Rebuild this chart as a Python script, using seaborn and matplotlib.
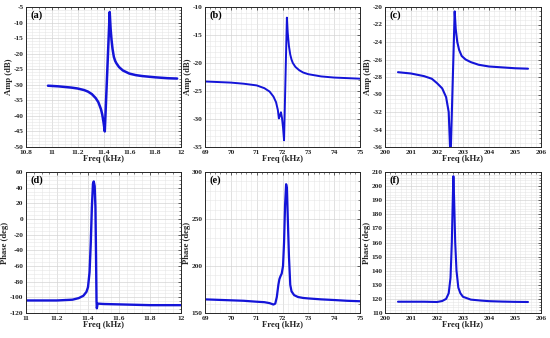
import numpy as np
import pandas as pd
import seaborn as sns
import matplotlib
matplotlib.use("Agg")
import matplotlib.pyplot as plt
from matplotlib.ticker import AutoMinorLocator, MultipleLocator, FuncFormatter

# ---------------- data ----------------
a_freq = [10.97, 11.05, 11.10, 11.15, 11.20, 11.25, 11.28, 11.31, 11.34, 11.36, 11.38, 11.39,
          11.40, 11.41, 11.448, 11.455, 11.462, 11.47, 11.48, 11.49, 11.50, 11.52, 11.55,
          11.60, 11.65, 11.70, 11.80, 11.90, 11.97]
a_amp = [-30.3, -30.5, -30.7, -30.9, -31.2, -31.7, -32.2, -33.0, -34.3, -35.6, -37.8, -39.5,
         -42.0, -45.0, -6.6, -12.0, -15.5, -18.5, -21.0, -22.3, -23.1, -24.3, -25.4,
         -26.4, -26.9, -27.2, -27.6, -27.9, -28.0]

b_freq = [69.0, 69.5, 70.0, 70.5, 71.0, 71.3, 71.5, 71.65, 71.75, 71.82, 71.86, 71.90, 71.94,
          71.98, 72.02, 72.06, 72.17, 72.20, 72.25, 72.30, 72.35, 72.40, 72.50, 72.65, 72.80,
          73.0, 73.5, 74.0, 74.5, 75.0]
b_amp = [-23.3, -23.4, -23.5, -23.7, -24.0, -24.5, -25.1, -26.0, -27.0, -28.4, -29.9, -29.4,
         -28.8, -29.8, -31.5, -33.8, -11.9, -14.5, -17.0, -18.5, -19.4, -20.0, -20.7, -21.3,
         -21.7, -22.0, -22.4, -22.6, -22.7, -22.8]

c_freq = [200.5, 201.0, 201.5, 201.8, 202.0, 202.2, 202.35, 202.45, 202.52, 202.68, 202.72,
          202.78, 202.85, 202.95, 203.1, 203.3, 203.6, 204.0, 204.5, 205.0, 205.5]
c_amp = [-27.45, -27.6, -27.9, -28.2, -28.7, -29.3, -30.3, -32.0, -37.5, -20.5, -22.5,
         -24.0, -24.9, -25.6, -26.0, -26.3, -26.6, -26.8, -26.9, -27.0, -27.05]

d_freq = [11.00, 11.10, 11.20, 11.30, 11.34, 11.37, 11.39, 11.40, 11.41, 11.418, 11.425,
          11.432, 11.437, 11.443, 11.448, 11.452, 11.455, 11.457, 11.462, 11.50, 11.60,
          11.70, 11.80, 11.90, 12.00]
d_phase = [-104, -104, -104, -103, -101, -98, -93, -87, -68, -30, 15,
           45, 48, 42, 15, -50, -105, -114, -108, -108.5, -109,
           -109.5, -110, -110, -110]

e_freq = [69.0, 69.5, 70.0, 70.5, 71.0, 71.3, 71.5, 71.65, 71.72, 71.78, 71.84, 71.88, 71.92,
          71.97, 72.02, 72.06, 72.10, 72.14, 72.17, 72.20, 72.25, 72.30, 72.35, 72.45, 72.60,
          72.80, 73.0, 73.5, 74.0, 74.5, 75.0]
e_phase = [164.5, 164, 163.5, 163, 162, 161.5, 160.5, 159, 160, 167, 180, 186, 189,
           192, 200, 225, 265, 287, 283, 255, 210, 180, 173, 169, 167,
           166, 165.5, 164.5, 163.8, 163, 162.5]

f_freq = [200.5, 201.0, 201.5, 202.0, 202.2, 202.35, 202.45, 202.52, 202.57, 202.60, 202.63,
          202.66, 202.70, 202.75, 202.82, 202.90, 203.0, 203.3, 203.7, 204.0, 204.5, 205.0, 205.5]
f_phase = [118, 118, 118, 117.8, 118.5, 120, 124, 135, 160, 185, 207,
           190, 160, 140, 128, 124, 121.5, 119.5, 118.8, 118.4, 118.1, 117.9, 117.8]

panels = [
    ("(a)", a_freq, a_amp, "Amp (dB)", (10.8, 12), 0.2, (-50, -5), 5),
    ("(b)", b_freq, b_amp, "Amp (dB)", (69, 75), 1, (-35, -10), 5),
    ("(c)", c_freq, c_amp, "Amp (dB)", (200, 206), 1, (-36, -20), 2),
    ("(d)", d_freq, d_phase, "Phase (deg)", (11, 12), 0.2, (-120, 60), 20),
    ("(e)", e_freq, e_phase, "Phase (deg)", (69, 75), 1, (150, 300), 50),
    ("(f)", f_freq, f_phase, "Phase (deg)", (200, 206), 1, (110, 210), 10),
]
line_widths = [1.8, 1.4, 1.5, 1.7, 1.6, 1.5]

# ---------------- style ----------------
sns.set_theme(style="whitegrid")
plt.rcParams["font.family"] = ["Liberation Serif", "DejaVu Serif"]
plt.rcParams["font.weight"] = "bold"
plt.rcParams["axes.unicode_minus"] = False

fig = plt.figure(figsize=(5.5, 3.38), dpi=100)
W, H = 550.0, 338.0
cols = [(26, 181), (205, 360), (385, 541)]
rows = [(7, 147), (172, 313)]

fmt = FuncFormatter(lambda v, p: "%g" % round(v, 6))
blue = "#1414d8"

for i, (lab, fx, fy, ylab, xlim, xstep, ylim, ystep) in enumerate(panels):
    c0, c1 = cols[i % 3]
    r0, r1 = rows[i // 3]
    ax = fig.add_axes([c0 / W, 1 - r1 / H, (c1 - c0) / W, (r1 - r0) / H])
    df = pd.DataFrame({"freq": fx, "val": fy})
    sns.lineplot(data=df, x="freq", y="val", ax=ax, sort=False, estimator=None,
                 color=blue, linewidth=line_widths[i])
    ax.set_xlim(*xlim)
    ax.set_ylim(*ylim)
    ax.xaxis.set_major_locator(MultipleLocator(xstep))
    ax.yaxis.set_major_locator(MultipleLocator(ystep))
    ax.xaxis.set_minor_locator(AutoMinorLocator())
    ax.yaxis.set_minor_locator(AutoMinorLocator())
    ax.xaxis.set_major_formatter(fmt)
    ax.yaxis.set_major_formatter(fmt)
    ax.set_facecolor("white")
    ax.grid(True, which="major", color="#d4d4d4", linewidth=0.5)
    ax.grid(True, which="minor", color="#e6e6e6", linewidth=0.4)
    ax.set_axisbelow(True)
    for s in ax.spines.values():
        s.set_color("#262626")
        s.set_linewidth(0.7)
    ax.tick_params(which="both", direction="in", top=True, right=True,
                   labelsize=5.3, pad=1.8, color="#262626")
    ax.tick_params(which="major", length=2.5, width=0.5)
    ax.tick_params(which="minor", length=1.2, width=0.4)
    for t in ax.get_xticklabels() + ax.get_yticklabels():
        t.set_fontweight("bold")
    ax.set_xlabel("Freq (kHz)", fontsize=6.2, fontweight="bold", labelpad=0.5)
    ax.set_ylabel(ylab, fontsize=6.2, fontweight="bold", labelpad=0.5)
    ax.text(0.03, 0.975, lab, transform=ax.transAxes, ha="left", va="top",
            fontsize=7.5, fontweight="bold", color="black")

fig.savefig("out.png", dpi=100)
